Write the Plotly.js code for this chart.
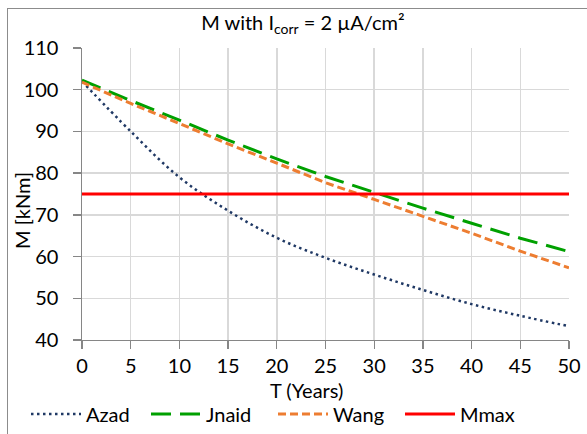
<!DOCTYPE html>
<html>
<head>
<meta charset="utf-8">
<script src="https://cdn.plot.ly/plotly-3.0.1.min.js"></script>
<style>
  html, body { margin: 0; padding: 0; background: #fff; }
  #wrap { position: relative; width: 587px; height: 434px; overflow: hidden; }
  #chart { width: 587px; height: 434px; }
  #frame { position: absolute; left: 7px; top: 8px; width: 700px; height: 600px;
           border-left: 1px solid #8c8c8c; border-top: 1px solid #8c8c8c; pointer-events: none; }
</style>
</head>
<body>
<div id="wrap">
  <div id="chart"></div>
  <div id="frame"></div>
</div>
<script>
// Data
const years = [0, 5, 10, 15, 20, 25, 30, 35, 40, 45, 50];
const azad  = [102.0, 90.0, 79.0, 71.0, 64.5, 59.7, 55.7, 52.0, 48.6, 45.8, 43.3];
const jnaid = [102.3, 97.4, 92.7, 87.9, 83.4, 79.2, 75.4, 71.6, 68.0, 64.4, 61.2];
const wang  = [101.8, 96.7, 91.9, 87.0, 82.4, 77.7, 73.7, 69.6, 65.6, 61.3, 57.3];
const mmaxYears = [0, 50];
const mmax  = [75, 75];

const chartTitle = 'M with I<sub>corr</sub> = 2 µA/cm²';
const xTitle = 'T (Years)';
const yTitle = 'M [kNm]';

const FONT = 'Lato, "Open Sans", sans-serif';
const FS = 20;

const traces = [
  { x: years, y: azad, name: 'Azad', mode: 'lines', legend: 'legend',
    line: { color: '#1f3864', width: 2.5, dash: '2.5px,3.5px', shape: 'spline' } },
  { x: years, y: jnaid, name: 'Jnaid', mode: 'lines', legend: 'legend2',
    line: { color: '#00a000', width: 3, dash: '20px,9px' } },
  { x: years, y: wang, name: 'Wang', mode: 'lines', legend: 'legend3',
    line: { color: '#ed7d31', width: 3, dash: '8px,4px' } },
  { x: mmaxYears, y: mmax, name: 'Mmax', mode: 'lines', legend: 'legend4',
    line: { color: '#ff0000', width: 3 } }
];

function legendAt(xpx) {
  return {
    orientation: 'h', xref: 'container', yref: 'container',
    x: xpx / 587, xanchor: 'left', y: (434 - 414) / 434, yanchor: 'middle',
    itemwidth: 50,
    font: { family: FONT, size: FS, color: '#000000' },
    bgcolor: 'rgba(0,0,0,0)', itemclick: false, itemdoubleclick: false
  };
}

const layout = {
  width: 587, height: 434,
  margin: { l: 82, r: 18, t: 48, b: 94 },
  paper_bgcolor: '#ffffff', plot_bgcolor: '#ffffff',
  font: { family: FONT, size: FS, color: '#000000' },
  title: { text: chartTitle, xref: 'container', x: 0.516,
           xanchor: 'center', yref: 'container', y: 0.948, yanchor: 'middle',
           font: { family: FONT, size: FS, color: '#000000' } },
  xaxis: {
    range: [0, 50], tick0: 0, dtick: 5, showgrid: true, gridcolor: '#d9d9d9', gridwidth: 1.5,
    showline: true, linecolor: '#868686', linewidth: 1.3,
    ticks: 'outside', ticklen: 8, tickcolor: '#868686', tickwidth: 1.3,
    ticklabelstandoff: 0,
    zeroline: false, fixedrange: true, automargin: false
  },
  yaxis: {
    range: [40, 110], tick0: 40, dtick: 10, showgrid: true, gridcolor: '#d9d9d9', gridwidth: 1.5,
    showline: true, linecolor: '#868686', linewidth: 1.3,
    ticks: 'outside', ticklen: 8, tickcolor: '#868686', tickwidth: 1.3,
    ticksuffix: '\u00a0\u00a0',
    zeroline: false, fixedrange: true, automargin: false
  },
  annotations: [
    { text: xTitle, xref: 'paper', yref: 'paper', x: 0.462, y: (340 - 390) / 292,
      xanchor: 'center', yanchor: 'middle', showarrow: false,
      font: { family: FONT, size: FS, color: '#000000' } },
    { text: yTitle, xref: 'paper', yref: 'paper', x: (22 - 82) / 487, y: (340 - 211) / 292,
      xanchor: 'center', yanchor: 'middle', showarrow: false, textangle: -90,
      font: { family: FONT, size: FS, color: '#000000' } }
  ],
  showlegend: true,
  legend: legendAt(26),
  legend2: legendAt(146),
  legend3: legendAt(273),
  legend4: legendAt(400)
};

Plotly.newPlot('chart', traces, layout, { displayModeBar: false, staticPlot: true });
</script>
</body>
</html>
